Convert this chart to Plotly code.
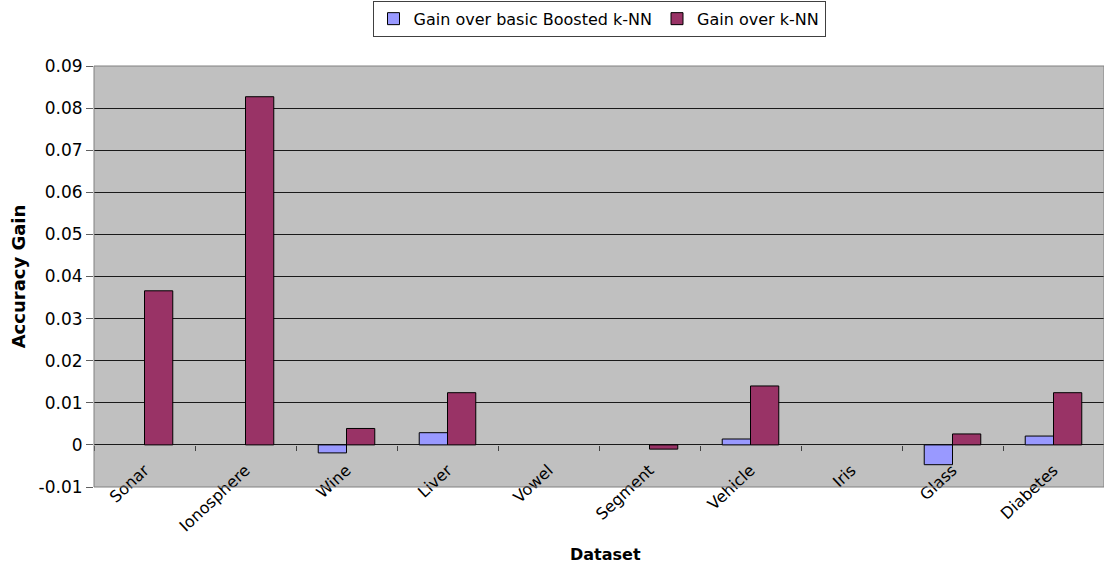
import plotly.graph_objects as go

# Accuracy gains per dataset
datasets = ["Sonar", "Ionosphere", "Wine", "Liver", "Vowel",
            "Segment", "Vehicle", "Iris", "Glass", "Diabetes"]
gain_vs_boosted = [0.0, 0.0, -0.0019, 0.0029, 0.0, 0.0, 0.0014, 0.0, -0.0047, 0.0021]
gain_vs_knn = [0.0366, 0.0827, 0.0039, 0.0124, 0.0, -0.0010, 0.0140, 0.0, 0.0026, 0.0124]

y_ticks = [-0.01, 0, 0.01, 0.02, 0.03, 0.04, 0.05, 0.06, 0.07, 0.08, 0.09]
y_tick_labels = ["-0.01", "0", "0.01", "0.02", "0.03", "0.04",
                 "0.05", "0.06", "0.07", "0.08", "0.09"]

y_min, y_max = y_ticks[0], y_ticks[-1]
zero_pos = (0 - y_min) / (y_max - y_min)

FONT = "DejaVu Sans, Liberation Sans, Arial, sans-serif"


def visible_bars(values):
    # a zero gain draws no bar at all
    return [None if v == 0 else v for v in values]


fig = go.Figure()
fig.add_trace(go.Bar(
    name="Gain over basic Boosted k-NN", x=datasets, y=visible_bars(gain_vs_boosted),
    marker=dict(color="#9999FF", line=dict(color="#000000", width=1)),
))
fig.add_trace(go.Bar(
    name="Gain over k-NN", x=datasets, y=visible_bars(gain_vs_knn),
    marker=dict(color="#993366", line=dict(color="#000000", width=1)),
))

fig.update_layout(
    width=1104, height=565,
    margin=dict(l=94, r=0, t=66, b=78),
    paper_bgcolor="white",
    plot_bgcolor="#C0C0C0",
    barmode="group",
    bargap=0.44,
    bargroupgap=0,
    font=dict(family=FONT, size=15, color="#000000"),
    showlegend=True,
    legend=dict(
        orientation="h", x=0.5, xanchor="center", y=1.155, yanchor="top",
        bordercolor="#404040", borderwidth=1, bgcolor="white",
        font=dict(family=FONT, size=16, color="#000000"),
        traceorder="normal",
    ),
    xaxis=dict(
        type="category",
        anchor="free", position=zero_pos,
        tickson="boundaries", ticks="outside", ticklen=5, tickcolor="#404040",
        tickangle=-43, ticklabelstandoff=12,
        showgrid=False, showline=False, zeroline=False,
        tickfont=dict(family=FONT, size=16),
    ),
    yaxis=dict(
        range=[y_min, y_max],
        tickvals=y_ticks, ticktext=y_tick_labels,
        ticks="outside", ticklen=7, tickcolor="#606060",
        showgrid=True, gridcolor="#1a1a1a", gridwidth=1,
        zeroline=True, zerolinecolor="#1a1a1a", zerolinewidth=1,
        showline=False,
        tickfont=dict(family=FONT, size=17),
        title=dict(text="<b>Accuracy Gain</b>", font=dict(family=FONT, size=18), standoff=8),
    ),
    shapes=[dict(
        type="rect", xref="paper", yref="paper", x0=0, x1=1, y0=0, y1=1,
        line=dict(color="#808080", width=1), layer="above",
    )],
    annotations=[dict(
        text="<b>Dataset</b>", xref="paper", yref="paper", x=0.5, y=0,
        xshift=6, yshift=-56, yanchor="top", showarrow=False,
        font=dict(family=FONT, size=16),
    )],
)

fig.write_html("out.html")
